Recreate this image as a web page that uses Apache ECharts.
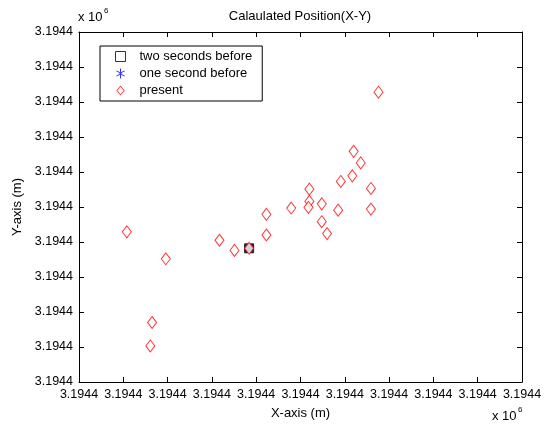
<!DOCTYPE html>
<html>
<head>
<meta charset="utf-8">
<script src="https://cdn.jsdelivr.net/npm/echarts@6/dist/echarts.min.js"></script>
<style>
html,body{margin:0;padding:0;background:#fff;}
#main{width:551px;height:425px;}
</style>
</head>
<body>
<div id="main"></div>
<script>
// positions in tick units (ticks are all labelled 3.1944, x 10^6)
var tickLabels = ['3.1944','3.1944','3.1944','3.1944','3.1944','3.1944','3.1944','3.1944','3.1944','3.1944','3.1944'];
var twoSecBefore = [[3.84, 3.82]];
var oneSecBefore = [[3.84, 3.82]];
var presentPts = [
	[1.08, 4.29], [1.96, 3.52], [1.65, 1.70], [1.61, 1.03],
	[3.17, 4.05], [3.51, 3.76], [3.84, 3.82], [4.23, 4.79],
	[4.23, 4.20], [4.79, 4.97], [6.76, 8.28], [6.20, 6.59],
	[6.36, 6.26], [6.17, 5.89], [5.91, 5.73], [6.59, 5.53],
	[5.20, 5.51], [5.20, 5.16], [5.18, 4.99], [5.48, 5.09],
	[5.85, 4.91], [6.59, 4.94], [5.48, 4.58], [5.60, 4.24]
];

var font = 'Liberation Sans, Arial, sans-serif';
var star = 'path://M4.5,0 L5.5,0 L5.5,3.8 L8.8,1.9 L9.3,2.8 L6,4.5 L6,5.5 L9.3,7.2 L8.8,8.1 L5.5,6.2 L5.5,10 L4.5,10 L4.5,6.2 L1.2,8.1 L0.7,7.2 L4,5.5 L4,4.5 L0.7,2.8 L1.2,1.9 L4.5,3.8 Z';
// hollow diamond outline for the legend icon
var hollowDiamond = 'path://M5,0 L10,6 L5,12 L0,6 Z M5,1.6 L1.3,6 L5,10.4 L8.7,6 Z';

var chartDom = document.getElementById('main');
var myChart = echarts.init(chartDom);
var axisCommon = {
	type: 'value', min: 0, max: 10, interval: 1,
	axisLine: {show: true, onZero: false, lineStyle: {color: '#000', width: 1}},
	axisTick: {show: true, inside: true, length: 5, lineStyle: {color: '#000'}},
	splitLine: {show: false}
};
var option = {
	animation: false,
	textStyle: {fontFamily: font},
	title: {
		text: 'Calaulated Position(X-Y)', left: 295, top: 5, textAlign: 'center',
		textStyle: {fontSize: 13, fontWeight: 'normal', color: '#000', fontFamily: font}
	},
	grid: {left: 79, top: 32, right: 29, bottom: 43},
	legend: {
		left: 100, top: 46, orient: 'vertical', itemGap: 4, itemWidth: 10, itemHeight: 10,
		padding: [4, 10, 4, 15], borderColor: '#000', borderWidth: 1, backgroundColor: '#fff',
		textStyle: {fontSize: 13, color: '#000', fontFamily: font, padding: [0, 0, 0, 9]},
		data: [
			{name: 'two seconds before', icon: 'rect',
				itemStyle: {color: '#fff', borderColor: '#000', borderWidth: 1}},
			{name: 'one second before', icon: star},
			{name: 'present', icon: hollowDiamond,
				itemStyle: {color: '#ff0000', borderWidth: 0}}
		]
	},
	xAxis: [
		Object.assign({}, axisCommon, {
			position: 'bottom',
			name: 'X-axis (m)', nameLocation: 'middle', nameGap: 25,
			nameTextStyle: {fontSize: 13, color: '#000', fontFamily: font},
			axisLabel: {color: '#000', fontSize: 12.5, fontFamily: font, margin: 6,
				formatter: function (v) { return tickLabels[v]; }}
		}),
		Object.assign({}, axisCommon, {position: 'top', axisLabel: {show: false}})
	],
	yAxis: [
		Object.assign({}, axisCommon, {
			position: 'left',
			name: 'Y-axis (m)', nameLocation: 'middle', nameGap: 51,
			nameTextStyle: {fontSize: 13, color: '#000', fontFamily: font},
			axisLabel: {color: '#000', fontSize: 12.5, fontFamily: font, margin: 6,
				formatter: function (v) { return tickLabels[v]; }}
		}),
		Object.assign({}, axisCommon, {position: 'right', axisLabel: {show: false}})
	],
	graphic: [
		{type: 'text', left: 78, top: 11, style: {text: 'x 10', fontSize: 13, fill: '#000', fontFamily: font}},
		{type: 'text', left: 104, top: 7, style: {text: '6', fontSize: 8, fill: '#000', fontFamily: font}},
		{type: 'text', left: 492, top: 410, style: {text: 'x 10', fontSize: 13, fill: '#000', fontFamily: font}},
		{type: 'text', left: 518, top: 406, style: {text: '6', fontSize: 8, fill: '#000', fontFamily: font}}
	],
	series: [
		{
			name: 'two seconds before', type: 'scatter', data: twoSecBefore,
			symbol: 'rect', symbolSize: 9,
			itemStyle: {color: '#000', borderColor: '#000', borderWidth: 1}
		},
		{
			name: 'one second before', type: 'scatter', data: oneSecBefore,
			symbol: star, symbolSize: 8,
			itemStyle: {color: '#0000ff'}
		},
		{
			name: 'present', type: 'scatter', data: presentPts,
			symbol: 'diamond', symbolSize: [9, 12],
			itemStyle: {color: '#fff', borderColor: '#ff0000', borderWidth: 1}
		}
	]
};
myChart.setOption(option);
</script>
</body>
</html>
